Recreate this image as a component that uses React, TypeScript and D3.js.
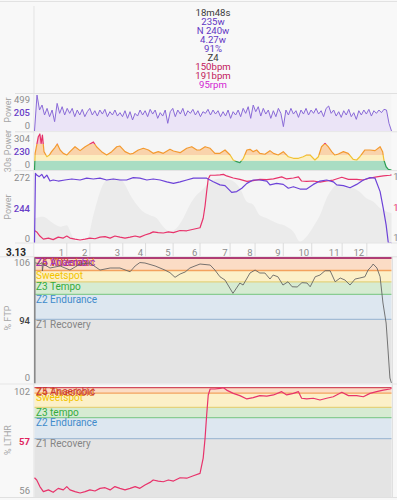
import * as d3 from "d3";

const WIDTH = 397;
const HEIGHT = 500;
const PLOT_LEFT = 34.5;
const PLOT_RIGHT = 391.5;
const DURATION_S = 1128; // 18m48s

// ---- summary block ----
const headerTexts = ["18m48s", "235w", "N 240w", "4.27w", "91%", "Z4", "150bpm", "191bpm", "95rpm"];
const headerKinds = ["time", "power", "power", "power", "power", "zone", "hr", "hr", "cadence"];

// ---- raw power (even samples over the ride) ----
const rawPower = [
  0, 519, 303, 375, 231, 327, 207, 303, 135, 399,
  255, 351, 231, 327, 255, 327, 207, 303, 231, 313,
  207, 279, 327, 231, 293, 216, 303, 245, 313, 207,
  279, 231, 303, 216, 265, 207, 293, 183, 279, 159,
  255, 216, 303, 231, 293, 207, 313, 245, 303, 183,
  265, 216, 303, 111, 279, 327, 207, 303, 245, 327,
  216, 293, 255, 313, 231, 293, 207, 279, 255,
  313, 231, 303, 245, 293, 207, 279, 216, 303, 183,
  279, 231, 303, 207, 327, 255, 351, 183, 375, 279,
  351, 216, 327, 245, 303, 183, 293, 207, 327, 255,
  63, 303, 231, 327, 245, 293, 197, 303, 245, 327,
  231, 303, 255, 327, 245, 293, 207, 327, 361, 255,
  303, 216, 279, 197, 293, 231, 313, 207, 265, 168,
  293, 231, 303, 245, 313, 216, 293, 255, 303, 265,
  313, 303, 111, 0,
];
const powerTicks = ["499", "205", "0"];

// ---- 30s power ----
const power30Time = [
  0, 2, 7, 12, 17, 21, 25, 30, 39, 47, 54, 65, 72, 81, 91, 102, 112, 128, 144, 160,
  175, 186, 196, 212, 228, 244, 260, 270, 286, 302, 312, 328, 344, 360, 375, 391, 407, 428, 439, 460,
  481, 497, 513, 523, 539, 555, 570, 586, 602, 618, 628, 639, 649, 660, 671, 681, 691, 702, 712, 728,
  744, 755, 770, 786, 802, 818, 834, 849, 860, 871, 886, 897, 907, 918, 928, 939, 949, 960, 976, 991,
  1007, 1018, 1028, 1044, 1060, 1076, 1092, 1100, 1104, 1111, 1118, 1128,
];
const power30 = [
  0, 148, 222, 296, 320, 237, 311, 163, 118, 133, 163, 202, 231, 178, 148, 133, 163, 207, 172, 207,
  231, 249, 207, 163, 133, 163, 207, 213, 163, 142, 148, 178, 193, 178, 148, 163, 148, 184, 169, 154,
  193, 207, 178, 178, 207, 193, 148, 148, 178, 133, 89, 74, 65, 104, 178, 184, 163, 178, 148, 140,
  172, 148, 133, 163, 118, 104, 104, 118, 133, 133, 89, 118, 207, 237, 207, 163, 133, 142, 163, 148,
  95, 89, 118, 178, 178, 172, 207, 163, 89, 29, 6, 0,
];
const power30Ticks = ["304", "230", "0"];
const power30ZoneFloor = [0, 83, 133, 232];
const power30ZoneTop = [83, 133, 232, 400];

// ---- smoothed power / heart rate / elevation ----
const smoothTime = [
  0, 3, 7, 15, 23, 30, 39, 49, 59, 75, 96, 118, 144, 165, 186, 207, 228, 249, 270, 291,
  312, 333, 355, 375, 397, 418, 439, 460, 481, 502, 523, 544, 565, 586, 602, 623, 639, 655, 671, 691,
  712, 734, 744, 765, 786, 802, 818, 839, 860, 881, 902, 923, 944, 955, 976, 997, 1018, 1039, 1060, 1076,
  1092, 1102, 1111, 1118, 1128,
];
const smoothPower = [
  0, 270, 263, 257, 266, 251, 263, 240, 244, 240, 244, 248, 244, 251, 248, 251, 244, 248, 244, 244,
  253, 251, 244, 248, 244, 237, 231, 237, 244, 251, 251, 251, 237, 225, 222, 196, 199, 212, 231, 244,
  244, 240, 225, 231, 227, 212, 218, 209, 209, 227, 240, 244, 237, 225, 222, 214, 227, 244, 253, 251,
  199, 134, 70, 0, 0,
];
const smoothTicks = ["272", "244", "0"];
const hrTicks = ["191", "150", "110"];

const elevTime = [
  0, 27, 58, 81, 102, 118, 133, 165, 186, 207, 228, 249, 270, 286, 302, 323, 344, 365, 386, 407,
  428, 449, 470, 491, 513, 523, 555, 586, 618, 649, 671, 691, 712, 734, 765, 797, 818, 839, 860, 881,
  902, 923, 939, 955, 976, 1007, 1028, 1049, 1071, 1092, 1113, 1128,
];
const elevation = [
  35, 37, 28, 23, 25, 11, 2, 4, 39, 72, 89, 92, 91, 82, 68, 54, 44, 39, 35, 23,
  16, 21, 35, 54, 68, 72, 86, 91, 89, 77, 58, 54, 39, 35, 28, 23, 16, 2, 9, 23,
  39, 63, 75, 82, 79, 77, 72, 63, 58, 49, 44, 42,
];

const lapTimes = [102, 175, 279, 351, 438, 523, 618, 697, 786, 876, 972, 1050];
const lapLabels = ["1", "2", "3", "4", "5", "6", "7", "8", "9", "10", "11", "12"];
const totalDistance = "3.13";

// ---- % FTP ----
const ftpTime = [
  0, 17, 24, 25, 28, 49, 81, 112, 144, 175, 207, 239, 270, 302, 318, 333, 349, 381, 412, 428,
  444, 460, 476, 491, 507, 523, 555, 570, 586, 602, 627, 649, 659, 681, 697, 712, 728, 744, 754, 769,
  785, 801, 814, 830, 845, 861, 871, 887, 902, 918, 934, 950, 966, 981, 997, 1013, 1028, 1044, 1054, 1066,
  1070, 1082, 1092, 1101, 1111, 1117, 1123, 1128,
];
const ftpPct = [
  105.9, 104.7, 106, 98.6, 104.7, 101.2, 103, 99.4, 104.7, 105.6, 99.4, 101.2, 101.2, 97.9, 103, 106, 105.6, 103, 99.4, 97.1,
  93, 95.9, 97.7, 101.2, 103, 104.7, 103.8, 99.4, 93.5, 90.6, 78.9, 88, 86.2, 96.8, 99.4, 96.8, 96.8, 91.5, 95, 93.5,
  86.2, 89.1, 84.7, 84.5, 88.3, 88, 84.7, 93.5, 95, 98.8, 98.8, 89.1, 92.4, 90.6, 86.2, 91.5, 92.4, 93.5, 99.4, 103,
  104.7, 101.2, 93.5, 70.4, 52.8, 29, 4.4, 0,
];
const ftpTicks = ["106", "94", "0"];
const ftpZoneNames = ["Z1 Recovery", "Z2 Endurance", "Z3 Tempo", "Sweetspot", "Z4 Threshold", "Z5 VO2max", "Z6 Anaerobic"];
const ftpZoneFloor = [0, 56, 78, 89, 99, 110, 121];
const ftpZoneTop = [56, 78, 89, 99, 110, 121, 200];

// ---- % LTHR ----
const lthrTime = [
  0, 7, 17, 28, 44, 59, 75, 91, 102, 112, 128, 144, 160, 175, 191, 207, 223, 239, 254, 270,
  286, 302, 318, 333, 349, 365, 375, 391, 407, 423, 439, 460, 481, 502, 523, 533, 539, 544, 549, 555,
  570, 586, 597, 607, 628, 649, 671, 691, 712, 734, 755, 781, 797, 818, 834, 844, 860, 881, 902, 923,
  944, 971, 992, 1018, 1039, 1060, 1081, 1102, 1123, 1128,
];
const lthrPct = [
  61.9, 60.9, 57.9, 55.6, 56.4, 55.3, 57.1, 56.4, 57.9, 56.4, 55.6, 55, 55.6, 56.4, 55.9, 57.1, 57.4, 56.4, 57.9, 57.1,
  56.4, 57.1, 57.9, 57.1, 58.6, 59.8, 60.9, 60.4, 60.1, 60.9, 60.4, 61.9, 61.7, 62.8, 63.9, 70.8, 79.9, 90.3, 99.4, 102.1,
  102.1, 102.4, 102.7, 101.6, 100.1, 99.1, 97.6, 98.2, 99.1, 98.9, 99.4, 100.9, 99.4, 100.1, 100.9, 97.9, 97.6, 97.9, 97.1, 97.9,
  98.6, 100.6, 99.1, 99.1, 98.6, 100.1, 100.9, 101.6, 102.1, 102.3,
];
const lthrTicks = ["102", "57", "56"];
const lthrZoneNames = ["Z1 Recovery", "Z2 Endurance", "Z3 tempo", "Sweetspot", "Z4 Threshold", "Z5 Anaerobic"];
const lthrZoneFloor = [0, 79.6, 89.1, 93.8, 100.2, 102.7];
const lthrZoneTop = [79.6, 89.1, 93.8, 100.2, 102.7, 120];

// ---- styles ----
const kindColor: Record<string, string> = {
  time: "#3a3a3a", power: "#6236c4", zone: "#3a3a3a", hr: "#c2185b", cadence: "#d21fd2",
};
const bandFill = ["#a9ddc3", "#fcefc1", "#f9d3ab", "#f7bccb"];
const bandLine = ["#2f9d55", "#f1c232", "#f39a30", "#e5336a"];
const zoneStyle: Record<string, { fill: string; line: string; text: string }> = {
  Z1: { fill: "#e4e4e4", line: "#c4c4c4", text: "#858585" },
  Z2: { fill: "#dde7f0", line: "#a3bcd5", text: "#3f8bcb" },
  Z3: { fill: "#d6ebd2", line: "#88cc92", text: "#34aa3c" },
  Sw: { fill: "#fcf0c8", line: "#e3d27c", text: "#f3c400" },
  Z4: { fill: "#fbdcc5", line: "#f3a25d", text: "#e0741c" },
  Z5: { fill: "#f8caca", line: "#d24b5c", text: "#c9363a" },
  Z6: { fill: "#ead2ef", line: "#a12d73", text: "#9b36c4" },
};
const FONT = "Roboto, 'Noto Sans', sans-serif";

type Pt = [number, number];
const pairs = (t: number[], v: number[]): Pt[] => v.map((d, i) => [t[i], d]);

function TickLabels({ labels, top, bottom, mid, x = 30, anchor = "end" }: {
  labels: string[]; top: number; bottom: number; mid: { color: string; weight: number }; x?: number; anchor?: string;
}) {
  const y = d3.scalePoint<string>().domain(labels).range([top, bottom]);
  return (
    <g fontSize={9.5} textAnchor={anchor}>
      {labels.map((l, i) => (
        <text key={i} x={x} y={(y(l) as number) + 3.4}
          fill={i === 1 ? mid.color : "#8c8c8c"} fontWeight={i === 1 ? mid.weight : 400}>{l}</text>
      ))}
    </g>
  );
}

function AxisTitle({ text, cy }: { text: string; cy: number }) {
  return (
    <text transform={`translate(10.5,${cy}) rotate(-90)`} textAnchor="middle" fontSize={9} fill="#a6a6a6">{text}</text>
  );
}

export default function App() {
  const x = d3.scaleLinear().domain([0, DURATION_S]).range([PLOT_LEFT, PLOT_RIGHT]);

  // panel 1: raw power
  const rawStep = DURATION_S / (rawPower.length - 1);
  const yRaw = d3.scaleLinear().domain([0, 520]).range([131, 95]);
  const rawArea = d3.area<number>().x((_, i) => x(i * rawStep)).y0(yRaw(0)).y1((d) => yRaw(d));
  const rawLine = d3.line<number>().x((_, i) => x(i * rawStep)).y((d) => yRaw(d));

  // panel 2: 30s power
  const y30 = d3.scaleLinear().domain([0, 320]).range([170, 134]).clamp(true);
  const p30 = pairs(power30Time, power30);
  const area30 = d3.area<Pt>().x((d) => x(d[0])).y0(y30(0)).y1((d) => y30(d[1]));
  const line30 = d3.line<Pt>().x((d) => x(d[0])).y((d) => y30(d[1]));

  // panel 3
  const ySmooth = d3.scaleLinear().domain([0, 275]).range([243, 172]);
  const yHr = d3.scaleLinear().domain([55, 103]).range([240, 174]);
  const yElev = d3.scaleLinear().domain([0, 100]).range([243, 172]);
  const smoothLine = d3.line<Pt>().x((d) => x(d[0])).y((d) => ySmooth(d[1]));
  const hrLine = d3.line<Pt>().x((d) => x(d[0])).y((d) => yHr(d[1]));
  const elevArea = d3.area<Pt>().x((d) => x(d[0])).y0(yElev(0)).y1((d) => yElev(d[1])).curve(d3.curveMonotoneX);

  // panel 4
  const yFtp = d3.scaleLinear().domain([0, 110]).range([383, 258]).clamp(true);
  const ftpLine = d3.line<Pt>().x((d) => x(d[0])).y((d) => yFtp(d[1]));

  // panel 5
  const yLthr = d3.scaleLinear().domain([55, 103]).range([493, 387]).clamp(true);
  const lthrLine = d3.line<Pt>().x((d) => x(d[0])).y((d) => yLthr(d[1]));

  const zoneKey = (n: string) => (n.startsWith("Sweet") ? "Sw" : n.slice(0, 2));

  const zoneBands = (names: string[], floors: number[], tops: number[], y: d3.ScaleLinear<number, number>, bottom: number) => (
    <g>
      {names.map((n, i) => {
        const s = zoneStyle[zoneKey(n)];
        const yt = y(tops[i]);
        const yb = i === 0 ? bottom : y(floors[i]);
        return <rect key={"r" + i} x={PLOT_LEFT} width={PLOT_RIGHT - PLOT_LEFT} y={yt} height={Math.max(0, yb - yt)} fill={s.fill} />;
      })}
      {names.map((n, i) => i === 0 ? null : (
        <line key={"l" + i} x1={PLOT_LEFT} x2={PLOT_RIGHT} y1={y(floors[i])} y2={y(floors[i])}
          stroke={zoneStyle[zoneKey(n)].line} strokeWidth={1.3} />
      ))}
      {names.map((n, i) => (
        <text key={"t" + i} x={PLOT_LEFT + 1.5} y={y(tops[i]) + 8.2} fontSize={10} fill={zoneStyle[zoneKey(n)].text}>{n}</text>
      ))}
    </g>
  );

  return (
    <svg width={WIDTH} height={HEIGHT} style={{ position: "absolute", left: 0, top: 0, background: "#f8f8f8", fontFamily: FONT }}>
      <defs>
        <clipPath id="area30"><path d={area30(p30) || ""} /></clipPath>
        {power30ZoneFloor.map((f, i) => (
          <clipPath id={"band30_" + i} key={i}>
            <rect x={0} width={WIDTH} y={i === 3 ? 0 : y30(power30ZoneTop[i])} height={i === 3 ? y30(f) : (i === 0 ? 200 : y30(f) - y30(power30ZoneTop[i]))} />
          </clipPath>
        ))}
      </defs>

      {/* frame lines */}
      <line x1={0} x2={WIDTH} y1={1.5} y2={1.5} stroke="#e2e2e2" />
      <line x1={PLOT_LEFT - 0.5} x2={PLOT_LEFT - 0.5} y1={6} y2={497} stroke="#e3e3e3" />
      <line x1={15} x2={WIDTH} y1={93.5} y2={93.5} stroke="#e0e0e0" />

      {/* summary */}
      <g textAnchor="middle" fontSize={9.6}>
        {headerTexts.map((t, i) => (
          <text key={i} x={(PLOT_LEFT + PLOT_RIGHT) / 2} y={15.7 + i * 9.05} fill={kindColor[headerKinds[i]]}>{t}</text>
        ))}
      </g>

      {/* panel 1: power */}
      <rect x={PLOT_LEFT} y={94} width={PLOT_RIGHT - PLOT_LEFT} height={37.5} fill="#f5f5f5" />
      <path d={rawArea(rawPower) || ""} fill="#ebe4f7" />
      <path d={rawLine(rawPower) || ""} fill="none" stroke="#8a6ad8" strokeWidth={1} strokeLinejoin="round" />
      <TickLabels labels={powerTicks} top={100} bottom={125.3} mid={{ color: "#6a3fc8", weight: 500 }} />
      <AxisTitle text="Power" cy={110} />
      <line x1={15} x2={WIDTH} y1={131.8} y2={131.8} stroke="#e2e2e2" />

      {/* panel 2: 30s power */}
      <rect x={PLOT_LEFT} y={132.3} width={PLOT_RIGHT - PLOT_LEFT} height={38} fill="#f5f5f5" />
      <g clipPath="url(#area30)">
        {power30ZoneFloor.map((f, i) => (
          <rect key={i} x={PLOT_LEFT} width={PLOT_RIGHT - PLOT_LEFT} y={y30(power30ZoneTop[i])}
            height={y30(f) - y30(power30ZoneTop[i])} fill={bandFill[i]} />
        ))}
      </g>
      {power30ZoneFloor.map((_, i) => (
        <path key={i} d={line30(p30) || ""} fill="none" stroke={bandLine[i]} strokeWidth={1.2}
          strokeLinejoin="round" clipPath={`url(#band30_${i})`} />
      ))}
      <TickLabels labels={power30Ticks} top={139} bottom={164.7} mid={{ color: "#6a3fc8", weight: 500 }} />
      <AxisTitle text="30s Power" cy={151} />
      <line x1={15} x2={WIDTH} y1={170.6} y2={170.6} stroke="#e2e2e2" />

      {/* panel 3: power, heart rate, elevation */}
      <rect x={PLOT_LEFT} y={171} width={PLOT_RIGHT - PLOT_LEFT} height={72} fill="#f5f5f5" />
      <path d={elevArea(pairs(elevTime, elevation)) || ""} fill="#ebebeb" />
      <path d={hrLine(pairs(lthrTime, lthrPct)) || ""} fill="none" stroke="#e8336b" strokeWidth={1.2} strokeLinejoin="round" />
      <path d={smoothLine(pairs(smoothTime, smoothPower)) || ""} fill="none" stroke="#6d43d8" strokeWidth={1.2} strokeLinejoin="round" />
      <TickLabels labels={smoothTicks} top={177.7} bottom={239} mid={{ color: "#6a3fc8", weight: 500 }} />
      <g fontSize={9.5}>
        {hrTicks.map((l, i) => {
          const yy = d3.scalePoint<string>().domain(hrTicks).range([177, 238])(l) as number;
          return <text key={i} x={393.2} y={yy + 3.4} fill={i === 1 ? "#e8336b" : "#8c8c8c"}>{l}</text>;
        })}
      </g>
      <AxisTitle text="Power" cy={207} />

      {/* distance strip */}
      <rect x={PLOT_LEFT} y={243} width={PLOT_RIGHT - PLOT_LEFT} height={13.5} fill="#fafafa" />
      <line x1={15} x2={WIDTH} y1={243} y2={243} stroke="#e4e4e4" />
      {lapTimes.map((t, i) => (
        <g key={i}>
          <line x1={x(t)} x2={x(t)} y1={243} y2={256.5} stroke="#dcdcdc" />
          <text x={x(t) - 2.6} y={255.6} textAnchor="end" fontSize={9.5} fill="#8c8c8c">{lapLabels[i]}</text>
        </g>
      ))}
      <text x={16} y={255.8} textAnchor="middle" fontSize={10} fontWeight={700} fill="#262626">{totalDistance}</text>
      <line x1={0} x2={WIDTH} y1={256.8} y2={256.8} stroke="#e2e2e2" />

      {/* panel 4: % FTP */}
      {zoneBands(ftpZoneNames, ftpZoneFloor, ftpZoneTop, yFtp, 383.5)}
      <path d={ftpLine(pairs(ftpTime, ftpPct)) || ""} fill="none" stroke="#5e5e5e" strokeWidth={0.85} strokeLinejoin="round" />
      <line x1={PLOT_LEFT + 0.3} x2={PLOT_LEFT + 0.3} y1={258} y2={383.5} stroke="#8a8a8a" strokeWidth={1.6} />
      <line x1={PLOT_RIGHT + 0.8} x2={PLOT_RIGHT + 0.8} y1={257} y2={497} stroke="#dadada" />
      <TickLabels labels={ftpTicks} top={263} bottom={378} mid={{ color: "#444444", weight: 500 }} />
      <AxisTitle text="% FTP" cy={318} />
      <line x1={0} x2={WIDTH} y1={384} y2={384} stroke="#e6e6e6" />

      {/* panel 5: % LTHR */}
      {zoneBands(lthrZoneNames, lthrZoneFloor, lthrZoneTop, yLthr, 497)}
      <path d={lthrLine(pairs(lthrTime, lthrPct)) || ""} fill="none" stroke="#e8336b" strokeWidth={1.2} strokeLinejoin="round" />
      <TickLabels labels={lthrTicks} top={392} bottom={490.7} mid={{ color: "#e0245e", weight: 700 }} />
      <AxisTitle text="% LTHR" cy={440} />
      <line x1={0} x2={WIDTH} y1={497.5} y2={497.5} stroke="#e0e0e0" />
    </svg>
  );
}
